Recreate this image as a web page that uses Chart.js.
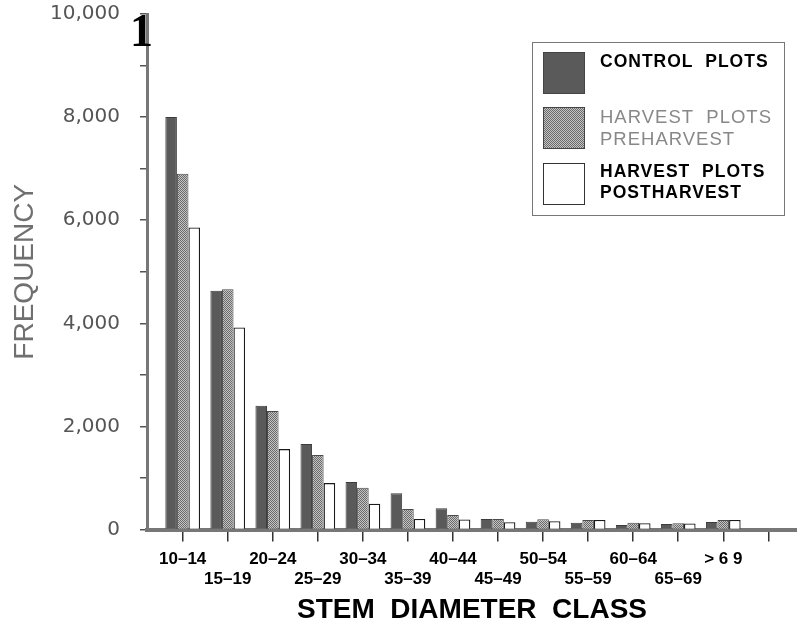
<!DOCTYPE html>
<html>
<head>
<meta charset="utf-8">
<script src="https://cdn.jsdelivr.net/npm/chart.js@4.4.0/dist/chart.umd.min.js"></script>
<style>
	html, body { margin: 0; padding: 0; background: #fff; }
	#wrap { position: relative; width: 797px; height: 621px; overflow: hidden; }
	#grafico { position: absolute; left: 0; top: 0; }
	#uno { position: absolute; left: 130px; top: 8px; font: bold 46px "Liberation Serif", serif; line-height: 46px; color: #000; }
	#legenda { position: absolute; left: 532px; top: 42px; width: 251px; height: 172px; border: 1.5px solid #777; }
	.box { position: absolute; width: 42px; height: 42px; box-sizing: border-box; }
	.voce { position: absolute; left: 600px; font-family: "Liberation Sans", Arial, sans-serif; line-height: 21.7px; letter-spacing: 1px; white-space: nowrap; }
</style>
</head>
<body>
<div id="wrap">
	<canvas id="grafico" width="797" height="621"></canvas>
	<div id="uno">1</div>
	<div id="legenda"></div>
</div>

<script>
// classi di diametro (l'ultima posizione resta vuota, come nel grafico originale)
const classi = ['10–14', '15–19', '20–24', '25–29', '30–34', '35–39', '40–44',
	'45–49', '50–54', '55–59', '60–64', '65–69', '> 6 9', ''];

// frequenze
const controlPlots = [8000, 4630, 2400, 1660, 920, 705, 410, 205, 150, 130, 85, 105, 145];
const preharvest   = [6900, 4660, 2300, 1445, 810, 400, 280, 205, 200, 185, 130, 120, 185];
const postharvest  = [5860, 3920, 1560, 900, 500, 205, 195, 140, 160, 185, 120, 115, 185];

const nomiSerie = ['CONTROL PLOTS', 'HARVEST PLOTS\nPREHARVEST', 'HARVEST PLOTS\nPOSTHARVEST'];
const yTicks = [0, 2000, 4000, 6000, 8000, 10000];

// retino puntinato per le barre "preharvest"
const retino = document.createElement('canvas');
retino.width = 2; retino.height = 2;
const rc = retino.getContext('2d');
rc.fillStyle = '#c4c4c4'; rc.fillRect(0, 0, 2, 2);
rc.fillStyle = '#6a6a6a'; rc.fillRect(0, 0, 1, 1); rc.fillRect(1, 1, 1, 1);
const ctx = document.getElementById('grafico').getContext('2d');
const pattern = ctx.createPattern(retino, 'repeat');

function punti(arr) {
	return arr.map(function (v, i) { return { x: i, y: v }; });
}

const grafico = new Chart(ctx, {
	type: 'bar',
	data: {
		datasets: [
			{ label: nomiSerie[0], data: punti(controlPlots), backgroundColor: '#5a5a5a', borderColor: '#3c3c3c', borderWidth: 1 },
			{ label: nomiSerie[1], data: punti(preharvest), backgroundColor: pattern, borderColor: '#4a4a4a', borderWidth: 1 },
			{ label: nomiSerie[2], data: punti(postharvest), backgroundColor: '#ffffff', borderColor: '#1a1a1a', borderWidth: 1.3 }
		]
	},
	options: {
		responsive: false,
		animation: false,
		devicePixelRatio: 1,
		layout: { padding: { top: 14, right: 0, bottom: 0, left: 0 } },
		plugins: { legend: { display: false }, tooltip: { enabled: false } },
		datasets: { bar: { categoryPercentage: 0.77, barPercentage: 1 } },
		scales: {
			x: {
				type: 'linear',
				min: -0.792,
				max: 13.636,
				offset: false,
				afterBuildTicks: function (s) { s.ticks = classi.map(function (c, i) { return { value: i }; }); },
				afterFit: function (s) { s.height = 91.5; s.paddingLeft = 0; s.paddingRight = 0; },
				grid: { drawOnChartArea: false, offset: false, tickLength: 12, color: '#333', lineWidth: 1.5 },
				border: { color: '#777', width: 4 },
				ticks: {
					autoSkip: false,
					maxRotation: 0,
					padding: 8,
					color: '#000',
					font: { family: 'Liberation Sans', size: 17, weight: 'bold', lineHeight: 1.18 },
					// etichette sfalsate su due righe
					callback: function (v, i) {
						const t = classi[i] || '';
						return i % 2 === 0 ? [t, ''] : ['', t];
					}
				},
				title: {
					display: true,
					text: 'STEM  DIAMETER  CLASS',
					color: '#000',
					font: { family: 'Liberation Sans', size: 28, weight: 'bold', lineHeight: 0.8 },
					padding: { top: 0, bottom: 0 }
				}
			},
			y: {
				min: 0,
				max: 10000,
				// larghezza fissa e niente spazio extra sopra per l'etichetta 10,000
				afterFit: function (s) { s.width = 147; s.paddingTop = 0; s.paddingBottom = 0; },
				grid: { drawOnChartArea: false, tickLength: 7, color: '#555', lineWidth: 1.5 },
				border: { color: '#777', width: 3 },
				ticks: {
					stepSize: 1000,
					autoSkip: false,
					padding: 20,
					color: '#555',
					font: { family: 'DejaVu Sans', size: 20 },
					callback: function (v) { return yTicks.includes(v) ? v.toLocaleString('en-US') : ''; }
				},
				title: {
					display: true,
					text: 'FREQUENCY',
					color: '#707070',
					font: { family: 'Liberation Sans', size: 28 },
					padding: { top: 8, bottom: 0 }
				}
			}
		}
	}
});

// legenda costruita a mano, come nell'originale (riquadro a destra)
const wrap = document.getElementById('wrap');
const stili = [
	{ top: 52, bg: '#5a5a5a', txtTop: 50.5, size: 17.5, weight: 'bold', color: '#000' },
	{ top: 107, bg: 'url(' + retino.toDataURL() + ')', txtTop: 106, size: 18.5, weight: 'normal', color: '#888' },
	{ top: 163, bg: '#fff', txtTop: 160.5, size: 17.5, weight: 'bold', color: '#000' }
];
stili.forEach(function (s, i) {
	const b = document.createElement('div');
	b.className = 'box';
	b.style.left = '543px';
	b.style.top = s.top + 'px';
	b.style.background = s.bg;
	b.style.border = i === 2 ? '1.3px solid #333' : '1px solid #444';
	wrap.appendChild(b);

	const t = document.createElement('div');
	t.className = 'voce';
	t.style.top = s.txtTop + 'px';
	t.style.fontSize = s.size + 'px';
	t.style.fontWeight = s.weight;
	t.style.color = s.color;
	t.innerHTML = nomiSerie[i].replace(' ', '&nbsp; ').replace('\n', '<br>');
	wrap.appendChild(t);
});
</script>
</body>
</html>
